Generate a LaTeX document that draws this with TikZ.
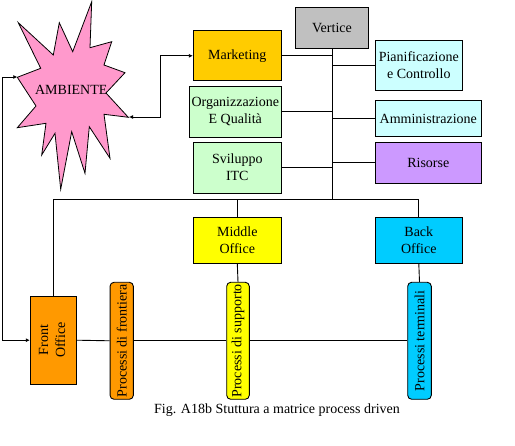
\documentclass[tikz,border=0pt]{standalone}
\usepackage{fontspec}
\setmainfont{Liberation Serif}
\usetikzlibrary{arrows.meta}
\begin{document}
\begin{tikzpicture}[x=1pt, y=-1pt,
  box/.style={draw, line width=0.9pt, align=center, inner sep=1pt, font=\fontsize{14}{17}\selectfont},
  bar/.style={box, rounded corners=4pt},
  link/.style={line width=0.9pt},
  both/.style={link, {Latex[length=4pt,width=4pt]}-{Latex[length=4pt,width=4pt]}}]
\useasboundingbox (0,0) rectangle (515,446);
\definecolor{col}{HTML}{FF99CC}
\filldraw[fill=col, line width=0.8pt] (91.7,1.7) -- (90,47.7) -- (111.7,41.7) -- (104,65) -- (125,72.7) -- (106,93) -- (128.3,117.3) -- (104,114.3) -- (110,158.3) -- (89.3,126.7) -- (85,173.3) -- (71.7,131.7) -- (60.7,189.3) -- (55,133.3) -- (41.7,155) -- (46,123.3) -- (17.3,127.7) -- (36,106) -- (17.3,77.3) -- (40.7,68.3) -- (18.3,22.7) -- (53.3,55) -- (59.3,22.7) -- (72.7,51.7) -- cycle;
\node[font=\fontsize{14}{17}\selectfont, inner sep=0pt] (ambiente) at (71.3,90) {AMBIENTE};
\coordinate (ambL) at (17.3,77);
\coordinate (ambR) at (129,117);
\definecolor{col}{HTML}{C0C0C0}
\node[box, fill=col, minimum width=72.6pt, minimum height=41pt] (vertice) at (332,27.7) {Vertice};
\definecolor{col}{HTML}{FFCC00}
\node[box, fill=col, minimum width=88pt, minimum height=50.3pt] (marketing) at (237.3,55.8) {Marketing};
\definecolor{col}{HTML}{CCFFCC}
\node[box, fill=col, minimum width=92pt, minimum height=50.7pt] (qualita) at (235.3,111.7) {Organizzazione\\E Qualità};
\node[box, fill=col, minimum width=88pt, minimum height=50.7pt] (sviluppo) at (237.3,167.7) {Sviluppo\\ITC};
\definecolor{col}{HTML}{CCFFFF}
\node[box, fill=col, minimum width=87pt, minimum height=49.7pt] (pianif) at (418.8,65.2) {Pianificazione\\e Controllo};
\node[box, fill=col, minimum width=106pt, minimum height=36.7pt] (ammin) at (428.3,118.5) {Amministrazione};
\definecolor{col}{HTML}{CC99FF}
\node[box, fill=col, minimum width=106pt, minimum height=41pt] (risorse) at (428.3,162.8) {Risorse};
\definecolor{col}{HTML}{FFFF00}
\node[box, fill=col, minimum width=88pt, minimum height=45.7pt] (middle) at (237.3,240.2) {Middle\\Office};
\node[bar, fill=col, minimum width=22.6pt, minimum height=117pt] (psupporto) at (238,340.8) {\rotatebox{90}{Processi di supporto}};
\definecolor{col}{HTML}{00CCFF}
\node[box, fill=col, minimum width=87pt, minimum height=45.7pt] (back) at (418.8,240.2) {Back\\Office};
\node[bar, fill=col, minimum width=23.6pt, minimum height=117pt] (pterminali) at (419.5,340.8) {\rotatebox{90}{Processi terminali}};
\definecolor{col}{HTML}{FF9900}
\node[box, fill=col, minimum width=46pt, minimum height=87.7pt] (front) at (53.3,340.2) {\rotatebox{90}{\begin{tabular}{@{}c@{}}Front\\Office\end{tabular}}};
\node[bar, fill=col, minimum width=23.3pt, minimum height=117pt] (pfrontiera) at (121.7,340.8) {\rotatebox{90}{Processi di frontiera}};
\node[font=\fontsize{14}{17}\selectfont] (caption) at (277,410) {Fig. A18b Stuttura a matrice process driven};
% vertice e staff
\coordinate (bus) at (0,199);
\draw[link] (vertice.south) -- (vertice.south |- bus);
\draw[link] (marketing.east) -- (marketing.east -| vertice.south);
\draw[link] (qualita.east) -- (qualita.east -| vertice.south);
\draw[link] (sviluppo.east) -- (sviluppo.east -| vertice.south);
\draw[link] (pianif.west) -- (pianif.west -| vertice.south);
\draw[link] (ammin.west) -- (ammin.west -| vertice.south);
\draw[link] (risorse.west) -- (risorse.west -| vertice.south);
% linea operativa
\draw[link] (front.north) |- (bus -| back.north) -- (back.north);
\draw[link] (middle.north) -- (middle.north |- bus);
\draw[link] (middle.south) -- (psupporto.north);
\draw[link] (back.south) -- (pterminali.north);
\draw[link] (front.east) -- (pfrontiera.west);
\draw[link] (pfrontiera.east) -- (psupporto.west);
\draw[link] (psupporto.east) -- (pterminali.west);
% ambiente
\coordinate (lft) at (2.7,0);
\coordinate (elbow) at (160.7,0);
\draw[both] (ambL) -- (ambL -| lft) |- (front.west);
\draw[both] (ambR) -- (ambR -| elbow) |- (marketing.west);
\end{tikzpicture}
\end{document}
